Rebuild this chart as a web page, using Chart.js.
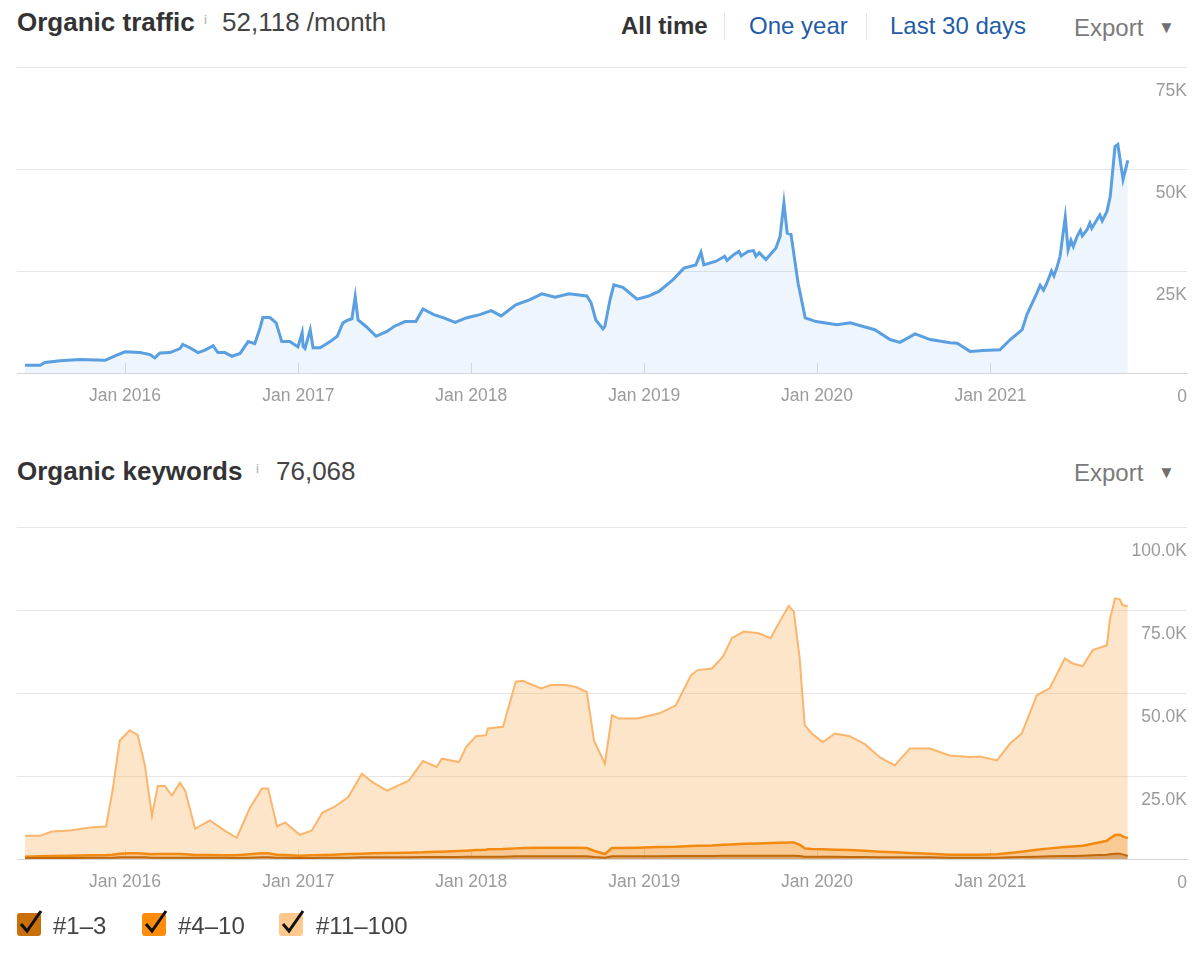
<!DOCTYPE html>
<html>
<head>
<meta charset="utf-8">
<script src="https://cdn.jsdelivr.net/npm/chart.js@4.4.1/dist/chart.umd.min.js"></script>
<style>
  body { margin: 0; width: 1200px; height: 961px; position: relative; background: #fff; overflow: hidden;
         font-family: 'Liberation Sans', Arial, sans-serif; }
  .abs { position: absolute; line-height: 1; white-space: nowrap; }
  .title { font-size: 26px; font-weight: bold; color: #333; }
  .info { font-size: 13px; color: #aaa; }
  .num { font-size: 26px; color: #444; }
  .tab { font-size: 24px; color: #1f5ca8; }
  .tab.on { color: #333; font-weight: bold; }
  .sep { position: absolute; width: 1px; background: #e4e4e4; }
  .export { font-size: 24px; color: #7a7a7a; }
  .caret { font-size: 17px; color: #6f6f6f; }
  .box { position: absolute; width: 24px; height: 23px; border-radius: 3px; }
  .lbl { font-size: 24px; color: #444; }
  canvas { position: absolute; left: 0; }
</style>
</head>
<body>
  <!-- organic traffic header -->
  <div class="abs title" style="left:17px; top:9px;">Organic traffic</div>
  <div class="abs info" style="left:204px; top:13px;">i</div>
  <div class="abs num" style="left:222px; top:9px;">52,118 /month</div>
  <div class="abs tab on" style="left:621px; top:14px;">All time</div>
  <div class="sep" style="left:724px; top:13px; height:27px;"></div>
  <div class="abs tab" style="left:749px; top:14px;">One year</div>
  <div class="sep" style="left:866px; top:13px; height:27px;"></div>
  <div class="abs tab" style="left:890px; top:14px;">Last 30 days</div>
  <div class="abs export" style="left:1074px; top:16px;">Export</div>
  <div class="abs caret" style="left:1158px; top:19px;">&#9660;</div>

  <canvas id="traffic" width="1200" height="385" style="top:50px;"></canvas>

  <!-- organic keywords header -->
  <div class="abs title" style="left:17px; top:458px;">Organic keywords</div>
  <div class="abs info" style="left:256px; top:462px;">i</div>
  <div class="abs num" style="left:276px; top:458px;">76,068</div>
  <div class="abs export" style="left:1074px; top:461px;">Export</div>
  <div class="abs caret" style="left:1158px; top:464px;">&#9660;</div>

  <canvas id="keywords" width="1200" height="426" style="top:500px;"></canvas>

  <!-- legend -->
  <div class="box" style="left:17px; top:913px; background:#c96f0c;"></div>
  <div class="box" style="left:142px; top:913px; background:#ff8c0a;"></div>
  <div class="box" style="left:279px; top:913px; background:#ffc88f;"></div>
  <svg style="position:absolute; left:0; top:900px;" width="320" height="45">
    <polyline points="21,24 27,31 41,11" fill="none" stroke="#111" stroke-width="3"/>
    <polyline points="146,24 152,31 166,11" fill="none" stroke="#111" stroke-width="3"/>
    <polyline points="283,24 289,31 303,11" fill="none" stroke="#111" stroke-width="3"/>
  </svg>
  <div class="abs lbl" style="left:53px; top:914px;">#1–3</div>
  <div class="abs lbl" style="left:178px; top:914px;">#4–10</div>
  <div class="abs lbl" style="left:316px; top:914px;">#11–100</div>

<script>
// organic traffic, per month (one line per year)
const trafficDates = [
  '2015-06-04','2015-07-06','2015-07-16','2015-08-17','2015-09-28','2015-11-20','2015-12-11',
  '2016-01-01','2016-02-02','2016-02-23','2016-03-04','2016-03-15','2016-04-05','2016-04-26','2016-05-02','2016-05-17',
  '2016-06-03','2016-06-18','2016-07-05','2016-07-15','2016-07-30','2016-08-14','2016-08-31','2016-09-17','2016-10-01',
  '2016-10-12','2016-10-18','2016-11-02','2016-11-15','2016-11-27','2016-12-14','2016-12-31',
  '2017-01-09','2017-01-11','2017-01-15','2017-01-26','2017-02-01','2017-02-16','2017-03-09','2017-03-24','2017-04-05',
  '2017-04-16','2017-04-24','2017-05-01','2017-05-07','2017-05-24','2017-06-14','2017-07-07','2017-07-22','2017-08-14',
  '2017-09-06','2017-09-21','2017-10-14','2017-11-04','2017-11-28','2017-12-21',
  '2018-01-19','2018-02-12','2018-03-05','2018-04-05','2018-05-05','2018-05-30','2018-06-27','2018-07-26','2018-09-02',
  '2018-09-11','2018-09-21','2018-10-06','2018-10-10','2018-10-21','2018-10-29','2018-11-17','2018-12-17',
  '2019-01-09','2019-02-01','2019-03-03','2019-03-26','2019-04-20','2019-05-01','2019-05-07','2019-06-02','2019-06-20',
  '2019-06-25','2019-07-09','2019-07-20','2019-07-25','2019-08-08','2019-08-20','2019-08-25','2019-09-01','2019-09-15',
  '2019-10-06','2019-10-15','2019-10-23','2019-10-30','2019-11-07','2019-11-22','2019-12-07','2019-12-30',
  '2020-02-12','2020-03-11','2020-05-02','2020-06-03','2020-06-24','2020-07-26','2020-08-27','2020-10-08',
  '2020-10-23','2020-11-19','2020-12-17',
  '2021-01-21','2021-02-12','2021-03-09','2021-03-19','2021-04-09','2021-04-16','2021-04-23','2021-04-30','2021-05-10',
  '2021-05-15','2021-05-22','2021-05-28','2021-06-08','2021-06-14','2021-06-20','2021-06-25','2021-07-03','2021-07-10',
  '2021-07-14','2021-07-24','2021-07-30','2021-08-03','2021-08-14','2021-08-20','2021-08-25','2021-09-04','2021-09-11',
  '2021-09-21','2021-09-27','2021-10-08','2021-10-18'];
const trafficValues = [
  1900,1900,2600,3000,3300,3100,4200,
  5200,5000,4500,3700,4900,5000,6000,7000,6200,
  5000,5600,6700,5000,5000,4100,4800,7700,7200,
  11000,13600,13600,12300,7700,7700,6400,
  9900,6500,6000,10600,6200,6200,7700,9000,12300,
  13000,13300,18700,13000,11400,9000,10200,11400,12600,
  12600,15700,14300,13500,12400,13500,
  14300,15300,14000,16700,18000,19400,18600,19400,18900,
  17200,13000,10800,11400,18000,21600,21000,18100,
  18800,20000,22900,25700,26500,29600,26500,27400,28600,
  27600,29000,29800,28700,29800,30000,28600,29500,27800,
  30600,33500,41700,34300,34000,22000,13500,12600,
  11800,12300,10600,8200,7500,9600,8200,7400,
  7300,5300,5500,
  5700,8200,10600,14300,19600,21500,20300,22000,25000,
  23800,26100,28600,38200,30200,32500,31000,33500,35000,
  33600,35100,36800,35500,37600,38700,37300,39600,43300,
  55500,56000,47400,52100];

// organic keywords by position group
const kwDates = ['2015-06-04','2015-07-06','2015-07-31','2015-09-07','2015-10-19','2015-11-22','2015-12-05','2015-12-21',
  '2016-01-11','2016-01-28','2016-02-12','2016-02-27','2016-03-10','2016-03-25','2016-04-09','2016-04-26','2016-05-07',
  '2016-05-28','2016-06-28','2016-07-30','2016-08-24','2016-09-20','2016-10-16','2016-10-29','2016-11-17','2016-12-04',
  '2017-01-04','2017-01-29','2017-02-21','2017-03-17','2017-04-16','2017-05-15','2017-06-07','2017-07-07','2017-08-22',
  '2017-09-21','2017-10-20','2017-10-31','2017-12-06','2017-12-21',
  '2018-01-11','2018-02-01','2018-02-05','2018-03-09','2018-04-05','2018-04-20','2018-05-28','2018-06-18','2018-07-20',
  '2018-08-10','2018-09-02','2018-09-17','2018-10-10','2018-10-25','2018-11-09','2018-12-17',
  '2019-02-01','2019-03-09','2019-04-10','2019-04-24','2019-05-24','2019-06-16','2019-07-05','2019-07-30','2019-08-31',
  '2019-09-25','2019-10-14','2019-11-02','2019-11-13','2019-11-25','2019-12-06','2019-12-21',
  '2020-01-13','2020-02-08','2020-03-10','2020-04-11','2020-05-13','2020-06-13','2020-07-15','2020-08-26','2020-10-07',
  '2020-11-19','2020-12-10','2021-01-15','2021-02-11','2021-03-08','2021-04-09','2021-05-06','2021-06-07','2021-06-24',
  '2021-07-15','2021-08-05','2021-09-04','2021-09-10','2021-09-21','2021-10-01','2021-10-07','2021-10-18'];
const kwPos1to3 = [300,300,300,300,400,400,400,500,
  500,500,500,400,400,400,400,400,400,
  400,400,400,300,400,500,500,400,400,
  300,300,400,400,400,500,500,500,500,
  600,600,600,600,700,
  700,700,700,700,800,800,800,800,800,
  800,800,600,400,800,800,800,
  800,900,900,900,900,1000,1000,1000,1000,
  1000,1000,1000,1000,900,700,700,
  700,700,600,600,500,500,500,500,400,
  400,400,400,500,600,700,800,900,900,
  1000,1100,1300,1400,1600,1600,1400,900];
const kwPos4to10 = [400,500,600,700,700,800,900,1100,
  1200,1200,1100,1000,1100,1100,1100,1100,1000,
  800,800,700,800,1000,1200,1200,900,800,
  700,800,800,900,1100,1100,1200,1300,1400,
  1400,1600,1600,1800,1800,
  2000,2100,2200,2300,2400,2500,2600,2600,2600,
  2600,2500,1900,1100,2500,2500,2600,
  2800,2800,3000,3100,3200,3300,3400,3600,3700,
  3800,3900,4000,4000,3400,2500,2300,
  2200,2100,2100,1900,1700,1500,1300,1100,900,
  900,900,1000,1300,1600,2100,2400,2700,2900,
  3000,3500,4200,4800,5600,5700,5400,5400];
const kwPos11to100 = [6300,6200,7400,7600,8400,8600,18700,34100,
  37100,35600,26600,11600,20500,20500,17600,21500,19200,
  7900,10400,7400,5300,13800,19500,19500,8500,9800,
  6300,7400,12800,14300,17100,24100,21400,18800,21700,
  27500,25500,28000,26800,31200,
  34300,34500,36400,36800,50200,50400,48000,49000,49000,
  48400,47000,33200,27200,40000,39000,38900,
  40200,42600,51500,52900,53300,56600,62100,63900,63300,
  61700,66600,71200,69500,56600,37100,34800,
  32300,35000,34300,32100,28400,26200,31500,31700,29900,
  29400,29600,28300,32900,35600,46500,48200,56800,55100,
  54100,58300,58900,65800,71300,70900,69700,69800];

const yearTicks = [2016, 2017, 2018, 2019, 2020, 2021];
const xRange = ['2015-05-18', '2022-02-20'];

const ts = d => Date.parse(d + 'T00:00:00Z');
const points = (dates, vals) => dates.map((d, i) => ({x: ts(d), y: vals[i]}));

const tickFont = {family: "'Liberation Sans', Arial, sans-serif", size: 17.5};

function xAxis() {
  return {
    type: 'linear',
    min: ts(xRange[0]),
    max: ts(xRange[1]),
    afterBuildTicks: (scale) => {
      scale.ticks = yearTicks.map(y => ({value: Date.UTC(y, 0, 1)}));
    },
    ticks: {
      color: '#9b9b9b',
      font: tickFont,
      padding: 23,
      maxRotation: 0,
      autoSkip: false,
      callback: (v) => 'Jan ' + new Date(v).getUTCFullYear(),
    },
    // negative tick length draws the small year marks up into the plot
    grid: {drawOnChartArea: false, drawTicks: true, tickLength: -10, color: '#dedede'},
    border: {display: true, color: '#d6d6d6'},
  };
}

function yAxis(max, fmt) {
  return {
    position: 'right',
    min: 0,
    max: max,
    stacked: true,
    ticks: {
      stepSize: 25000,
      mirror: true,
      padding: 0,
      labelOffset: 24,
      color: '#9b9b9b',
      font: tickFont,
      callback: (v) => v === 0 ? '0' : fmt(v),
    },
    grid: {color: '#e6e6e6', drawTicks: false},
    border: {display: false},
  };
}

const common = {
  responsive: false,
  animation: false,
  events: [],
  elements: {point: {radius: 0}, line: {tension: 0}},
  plugins: {legend: {display: false}, tooltip: {enabled: false}},
};

new Chart(document.getElementById('traffic'), {
  type: 'line',
  data: {
    datasets: [{
      label: 'Organic traffic',
      data: points(trafficDates, trafficValues),
      borderColor: '#5a9fe0',
      borderWidth: 3,
      backgroundColor: 'rgba(90,159,224,0.1)',
      fill: 'origin',
    }],
  },
  options: Object.assign({}, common, {
    layout: {padding: {top: 17, left: 17, right: 13, bottom: 5}},
    scales: {x: xAxis(), y: yAxis(75000, v => (v / 1000) + 'K')},
  }),
});

new Chart(document.getElementById('keywords'), {
  type: 'line',
  data: {
    datasets: [
      {label: '#1–3', data: points(kwDates, kwPos1to3), borderColor: '#c2690a', borderWidth: 2,
       backgroundColor: 'rgba(194,105,10,0.6)', fill: 'origin'},
      {label: '#4–10', data: points(kwDates, kwPos4to10), borderColor: '#f28a12', borderWidth: 2.5,
       backgroundColor: 'rgba(242,138,18,0.45)', fill: '-1'},
      {label: '#11–100', data: points(kwDates, kwPos11to100), borderColor: '#fbb56c', borderWidth: 2,
       backgroundColor: 'rgba(250,175,95,0.33)', fill: '-1'},
    ],
  },
  options: Object.assign({}, common, {
    layout: {padding: {top: 27, left: 17, right: 13, bottom: 10}},
    scales: {x: xAxis(), y: yAxis(100000, v => (v / 1000).toFixed(1) + 'K')},
  }),
});
</script>
</body>
</html>
